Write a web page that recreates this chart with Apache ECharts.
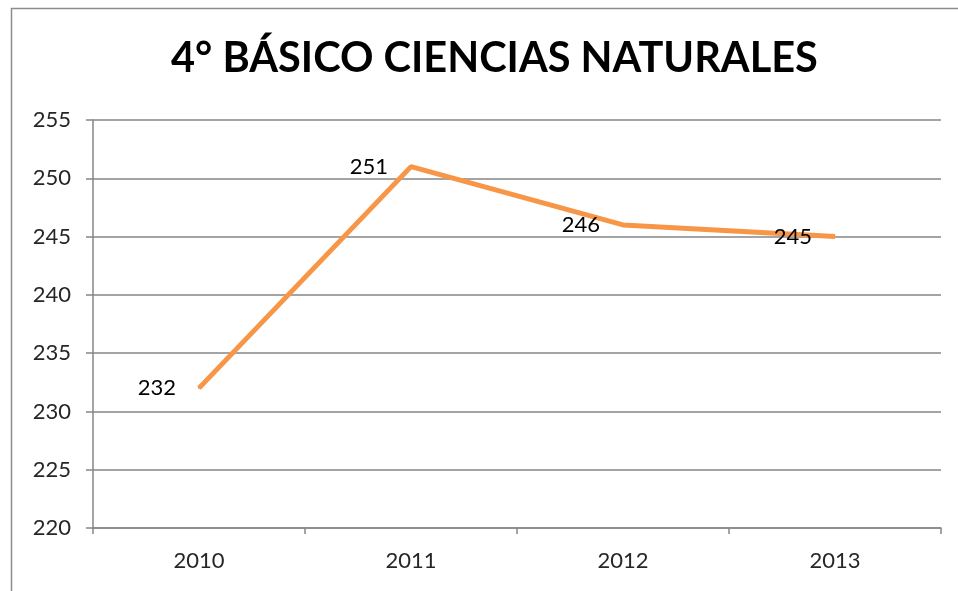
<!DOCTYPE html>
<html><head><meta charset="utf-8">
<script src="https://cdn.jsdelivr.net/npm/echarts@6/dist/echarts.min.js"></script>
<style>html,body{margin:0;padding:0;background:#fff}#c{width:958px;height:591px}</style>
</head><body><div id="c"></div>
<script>
const titleText = '4° BÁSICO CIENCIAS NATURALES';
const categories = ['2010', '2011', '2012', '2013'];
const values = [232, 251, 246, 245];
const yMin = 220, yMax = 255, yStep = 5;

const chart = echarts.init(document.getElementById('c'), null, {renderer: 'canvas'});
const font = 'Lato, "Open Sans", sans-serif';
chart.setOption({
  animation: false,
  backgroundColor: '#fff',
  title: {
    text: titleText, left: 166, top: 33,
    textStyle: {fontFamily: font, fontWeight: 'bold', fontSize: 41.5, color: '#000'}
  },
  graphic: [
    {type: 'line', shape: {x1: 11, y1: 8.5, x2: 958, y2: 8.5}, style: {stroke: '#8c8c8c', lineWidth: 1.5}},
    {type: 'line', shape: {x1: 11.5, y1: 8, x2: 11.5, y2: 591}, style: {stroke: '#8c8c8c', lineWidth: 1.5}}
  ],
  grid: {left: 93, right: 17, top: 120, bottom: 63},
  xAxis: {
    type: 'category', data: categories, boundaryGap: true,
    axisLine: {lineStyle: {color: '#868686', width: 1.5}},
    axisTick: {show: true, length: 6, lineStyle: {color: '#868686', width: 1.5}},
    axisLabel: {fontFamily: font, fontSize: 22, color: '#262626', margin: 22}
  },
  yAxis: {
    type: 'value', min: yMin, max: yMax, interval: yStep,
    axisLine: {show: true, lineStyle: {color: '#868686', width: 1.5}},
    axisTick: {show: true, length: 7, lineStyle: {color: '#868686', width: 1.5}},
    splitLine: {lineStyle: {color: '#868686', width: 1.5}},
    axisLabel: {fontFamily: font, fontSize: 22, color: '#262626', margin: 22}
  },
  series: [{
    type: 'line', data: values, showSymbol: true, symbol: 'circle', symbolSize: 2,
    lineStyle: {color: '#F79646', width: 5},
    itemStyle: {color: '#F79646'},
    labelLayout: {hideOverlap: false},
    label: {show: true, position: 'left', distance: 22, offset: [0, 3],
      fontFamily: font, fontSize: 22, color: '#000'}
  }]
});
</script></body></html>
